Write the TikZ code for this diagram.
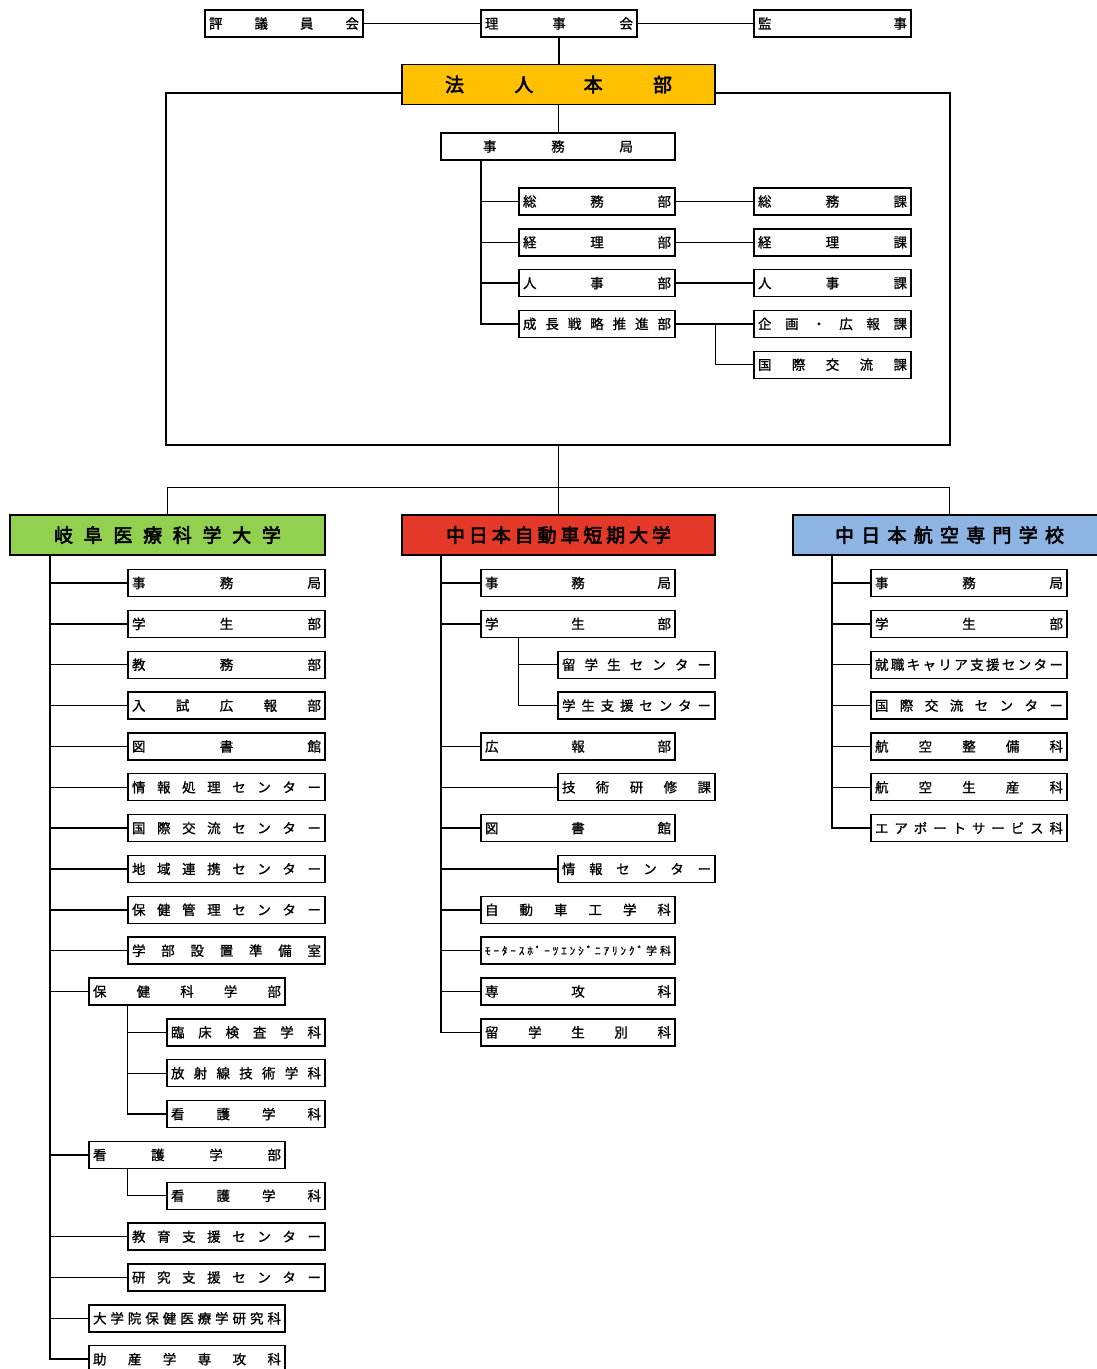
\documentclass[tikz,border=0pt]{standalone}
\usepackage{fontspec}
\newfontfamily\jp{Noto Sans CJK JP}[FakeBold=1]
\newfontfamily\jpb{Noto Sans CJK JP}[FakeBold=3]
\makeatletter
\def\spreadchars#1{\spr@a#1\relax}
\def\spr@a#1#2{#1\ifx\relax#2\expandafter\@gobble\else\hfill\expandafter\@firstofone\fi{\spr@a#2}}
\makeatother
\newcommand\sprd[2]{\makebox[#1][s]{\spreadchars{#2}}}
\newcommand\ry[1]{583+40.85*#1}
\newcommand\ty[1]{201.5+40.8*#1}
% optional style, name, left, right, ycenter, text
\newcommand\bxn[6][]{\node[bx,#1,minimum width={#4-#3}] (#2) at ({(#3+#4)/2},{#5}) {\sprd{\dimexpr #4pt-#3pt-8pt\relax}{#6}};}
\definecolor{orgc}{RGB}{255,192,0}
\definecolor{grnc}{RGB}{146,208,80}
\definecolor{redc}{RGB}{228,56,40}
\definecolor{bluc}{RGB}{141,180,226}
\tikzset{
  bx/.style={draw, line width=1.4pt, minimum height=27pt, inner sep=0pt, fill=white,
    font=\jp\fontsize{13.5}{13.5}\selectfont},
  title/.style={draw, line width=1.4pt, minimum height=40pt, inner sep=0pt,
    font=\jpb\fontsize{19}{19}\selectfont},
  ln/.style={line width=1.4pt}
}
\begin{document}
\begin{tikzpicture}[x=1pt,y=-1pt]
\useasboundingbox (0,0) rectangle (1096,1369);
% ---------- top ----------
\bxn{hyogi}{205}{363}{23.5}{評議員会}
\bxn{riji}{481}{637}{23.5}{理事会}
\bxn{kanji}{754}{911}{23.5}{監事}
\node[title, fill=orgc, minimum width=313] (honbu) at (558.5,84.5) {\sprd{227pt}{法人本部}};
\node[bx, minimum width=234] (jim) at (558,146.5) {\sprd{150pt}{事務局}};
\bxn{soumubu}{519}{675}{\ty{0}}{総務部}
\bxn{keiribu}{519}{675}{\ty{1}}{経理部}
\bxn{jinjibu}{519}{675}{\ty{2}}{人事部}
\bxn{seichou}{519}{675}{\ty{3}}{成長戦略推進部}
\bxn{soumuka}{754}{911}{\ty{0}}{総務課}
\bxn{keirika}{754}{911}{\ty{1}}{経理課}
\bxn{jinjika}{754}{911}{\ty{2}}{人事課}
\bxn{kikaku}{754}{911}{\ty{3}}{企画・広報課}
\bxn{kokusaika}{754}{911}{\ty{4}}{国際交流課}
\draw[ln] (hyogi) -- (riji) -- (kanji);
\draw[ln] (riji.south) -- (riji.south |- honbu.north);
\coordinate (fl) at (166,445);
\coordinate (fr) at (950,445);
\draw[ln] ([yshift=-8.5pt]honbu.west) -| (fl) -- (fr) |- ([yshift=-8.5pt]honbu.east);
\draw[ln] (honbu.south) -- (honbu.south |- jim.north);
\coordinate (js) at ([xshift=-77pt]jim.south);
\draw[ln] (js) |- (seichou.west);
\foreach \n in {soumubu,keiribu,jinjibu} \draw[ln] (\n.west) -- (\n.west -| js);
\draw[ln] (soumubu) -- (soumuka);
\draw[ln] (keiribu) -- (keirika);
\draw[ln] (jinjibu) -- (jinjika);
\draw[ln] (seichou) -- (kikaku);
\coordinate (ks) at ([xshift=40pt]seichou.east);
\draw[ln] (ks) |- (kokusaika.west);
% ---------- colleges ----------
\node[title, fill=grnc, minimum width=315] (gifu) at (167.5,535) {\sprd{227pt}{岐阜医療科学大学}};
\node[title, fill=redc, minimum width=313] (auto) at (558.5,535) {\sprd{225pt}{中日本自動車短期大学}};
\node[title, fill=bluc, minimum width=313] (air) at (949.5,535) {\sprd{229pt}{中日本航空専門学校}};
\draw[ln] (honbu.south |- fl) -- (auto.north);
\draw[ln] (gifu.north) -- ++(0,-27) -| (air.north);
% ---------- Gifu ----------
\bxn{L0}{128}{325}{\ry{0}}{事務局}
\bxn{L1}{128}{325}{\ry{1}}{学生部}
\bxn{L2}{128}{325}{\ry{2}}{教務部}
\bxn{L3}{128}{325}{\ry{3}}{入試広報部}
\bxn{L4}{128}{325}{\ry{4}}{図書館}
\bxn{L5}{128}{325}{\ry{5}}{情報処理センター}
\bxn{L6}{128}{325}{\ry{6}}{国際交流センター}
\bxn{L7}{128}{325}{\ry{7}}{地域連携センター}
\bxn{L8}{128}{325}{\ry{8}}{保健管理センター}
\bxn{L9}{128}{325}{\ry{9}}{学部設置準備室}
\bxn{L10}{89}{285}{\ry{10}}{保健科学部}
\bxn{L11}{167}{325}{\ry{11}}{臨床検査学科}
\bxn{L12}{167}{325}{\ry{12}}{放射線技術学科}
\bxn{L13}{167}{325}{\ry{13}}{看護学科}
\bxn{L14}{89}{285}{\ry{14}}{看護学部}
\bxn{L15}{167}{325}{\ry{15}}{看護学科}
\bxn{L16}{128}{325}{\ry{16}}{教育支援センター}
\bxn{L17}{128}{325}{\ry{17}}{研究支援センター}
\bxn{L18}{89}{285}{\ry{18}}{大学院保健医療学研究科}
\bxn{L19}{89}{285}{\ry{19}}{助産学専攻科}
\coordinate (ls) at ([xshift=-117.5pt]gifu.south);
\draw[ln] (ls) |- (L19.west);
\foreach \n in {L0,L1,L2,L3,L4,L5,L6,L7,L8,L9,L10,L14,L16,L17,L18} \draw[ln] (\n.west) -- (\n.west -| ls);
\coordinate (s1) at ([xshift=39pt]L10.south west);
\draw[ln] (s1) |- (L13.west);
\foreach \n in {L11,L12} \draw[ln] (\n.west) -- (\n.west -| s1);
\coordinate (s2) at ([xshift=39pt]L14.south west);
\draw[ln] (s2) |- (L15.west);
% ---------- Auto ----------
\bxn{M0}{481}{675}{\ry{0}}{事務局}
\bxn{M1}{481}{675}{\ry{1}}{学生部}
\bxn{M2}{558}{715}{\ry{2}}{留学生センター}
\bxn{M3}{558}{715}{\ry{3}}{学生支援センター}
\bxn{M4}{481}{675}{\ry{4}}{広報部}
\bxn{M5}{558}{715}{\ry{5}}{技術研修課}
\bxn{M6}{481}{675}{\ry{6}}{図書館}
\bxn{M7}{558}{715}{\ry{7}}{情報センター}
\bxn{M8}{481}{675}{\ry{8}}{自動車工学科}
\bxn[font=\jp\fontsize{11}{11}\selectfont]{M9}{481}{675}{\ry{9}}{ﾓｰﾀｰｽﾎﾟｰﾂｴﾝｼﾞﾆｱﾘﾝｸﾞ学科}
\bxn{M10}{481}{675}{\ry{10}}{専攻科}
\bxn{M11}{481}{675}{\ry{11}}{留学生別科}
\coordinate (ms) at ([xshift=-117.5pt]auto.south);
\draw[ln] (ms) |- (M11.west);
\foreach \n in {M0,M1,M4,M5,M6,M7,M8,M9,M10} \draw[ln] (\n.west) -- (\n.west -| ms);
\coordinate (s3) at ([xshift=38pt]M1.south west);
\draw[ln] (s3) |- (M3.west);
\draw[ln] (M2.west) -- (M2.west -| s3);
% ---------- Air ----------
\bxn{R0}{871}{1067}{\ry{0}}{事務局}
\bxn{R1}{871}{1067}{\ry{1}}{学生部}
\bxn{R2}{871}{1067}{\ry{2}}{就職キャリア支援センター}
\bxn{R3}{871}{1067}{\ry{3}}{国際交流センター}
\bxn{R4}{871}{1067}{\ry{4}}{航空整備科}
\bxn{R5}{871}{1067}{\ry{5}}{航空生産科}
\bxn{R6}{871}{1067}{\ry{6}}{エアポートサービス科}
\coordinate (rs) at ([xshift=-117.5pt]air.south);
\draw[ln] (rs) |- (R6.west);
\foreach \n in {R0,R1,R2,R3,R4,R5} \draw[ln] (\n.west) -- (\n.west -| rs);
\end{tikzpicture}
\end{document}
